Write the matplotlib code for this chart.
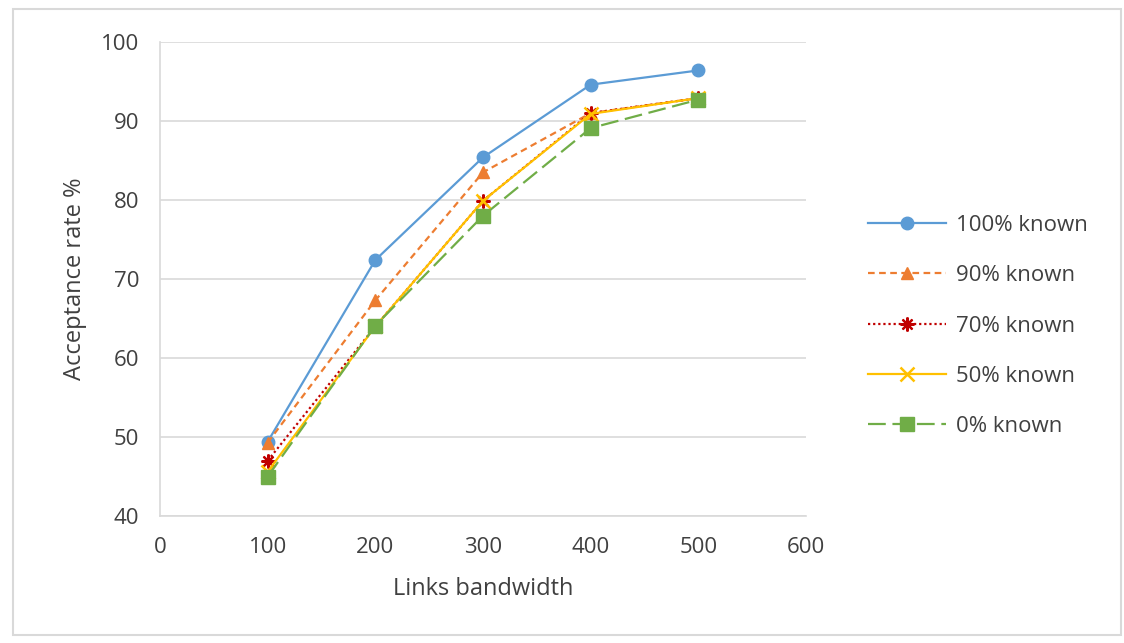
import matplotlib.pyplot as plt
from matplotlib.patches import Rectangle

bandwidth = [100, 200, 300, 400, 500]
known_100 = [49.4, 72.4, 85.4, 94.6, 96.4]
known_90 = [49.3, 67.3, 83.5, 91.0, 92.9]
known_70 = [47.0, 64.0, 79.9, 91.0, 92.9]
known_50 = [45.6, 64.0, 79.9, 90.9, 92.9]
known_0 = [45.0, 64.1, 78.0, 89.1, 92.7]

series = [
    ("100% known", known_100, dict(color="#5b9bd5", linestyle="-", marker="o", markersize=9)),
    ("90% known", known_90, dict(color="#ed7d31", linestyle=(0, (3, 2)), marker="^", markersize=9)),
    ("70% known", known_70, dict(color="#c00000", linestyle=(0, (1, 1.3)), marker=(8, 2, 0), markersize=10,
                                 markeredgewidth=1.6)),
    ("50% known", known_50, dict(color="#ffc000", linestyle="-", marker="x", markersize=10, markeredgewidth=1.8)),
    ("0% known", known_0, dict(color="#70ad47", linestyle=(0, (8, 3)), marker="s", markersize=10)),
]

plt.rcParams["font.family"] = ["Open Sans", "DejaVu Sans"]
text_color = "#404040"

fig = plt.figure(figsize=(11.24, 6.43), dpi=100)
ax = fig.add_axes([160 / 1124, 1 - 516 / 643, 646 / 1124, 474 / 643])

for label, values, style in series:
    ax.plot(bandwidth, values, label=label, linewidth=1.6, **style)

ax.set_xlim(0, 600)
ax.set_ylim(40, 100)
ax.set_xticks(range(0, 601, 100))
ax.set_yticks(range(40, 101, 10))
ax.grid(axis="y", color="#d9d9d9", linewidth=1.2)
ax.set_axisbelow(True)
for side in ["top", "right"]:
    ax.spines[side].set_visible(False)
for side in ["left", "bottom"]:
    ax.spines[side].set_color("#d9d9d9")
    ax.spines[side].set_linewidth(1.2)
ax.tick_params(length=0, labelsize=16, colors=text_color)
ax.tick_params(axis="y", pad=15)
ax.tick_params(axis="x", pad=15)

ax.set_xlabel("Links bandwidth", fontsize=17, color=text_color, labelpad=14)
ax.set_ylabel("Acceptance rate %", fontsize=17, color=text_color, labelpad=10)

ax.legend(loc="center left", bbox_to_anchor=(868 / 1124, 1 - 326 / 643),
          bbox_transform=fig.transFigure, frameon=False, borderpad=0,
          borderaxespad=0, fontsize=16, labelcolor=text_color,
          handlelength=3.5, labelspacing=1.32, handletextpad=0.45)

fig.patches.append(Rectangle((13 / 1124, 8 / 643), 1108 / 1124, 626 / 643,
                             transform=fig.transFigure, fill=False,
                             edgecolor="#d9d9d9", linewidth=1.5))

fig.savefig("out.png", dpi=100)
